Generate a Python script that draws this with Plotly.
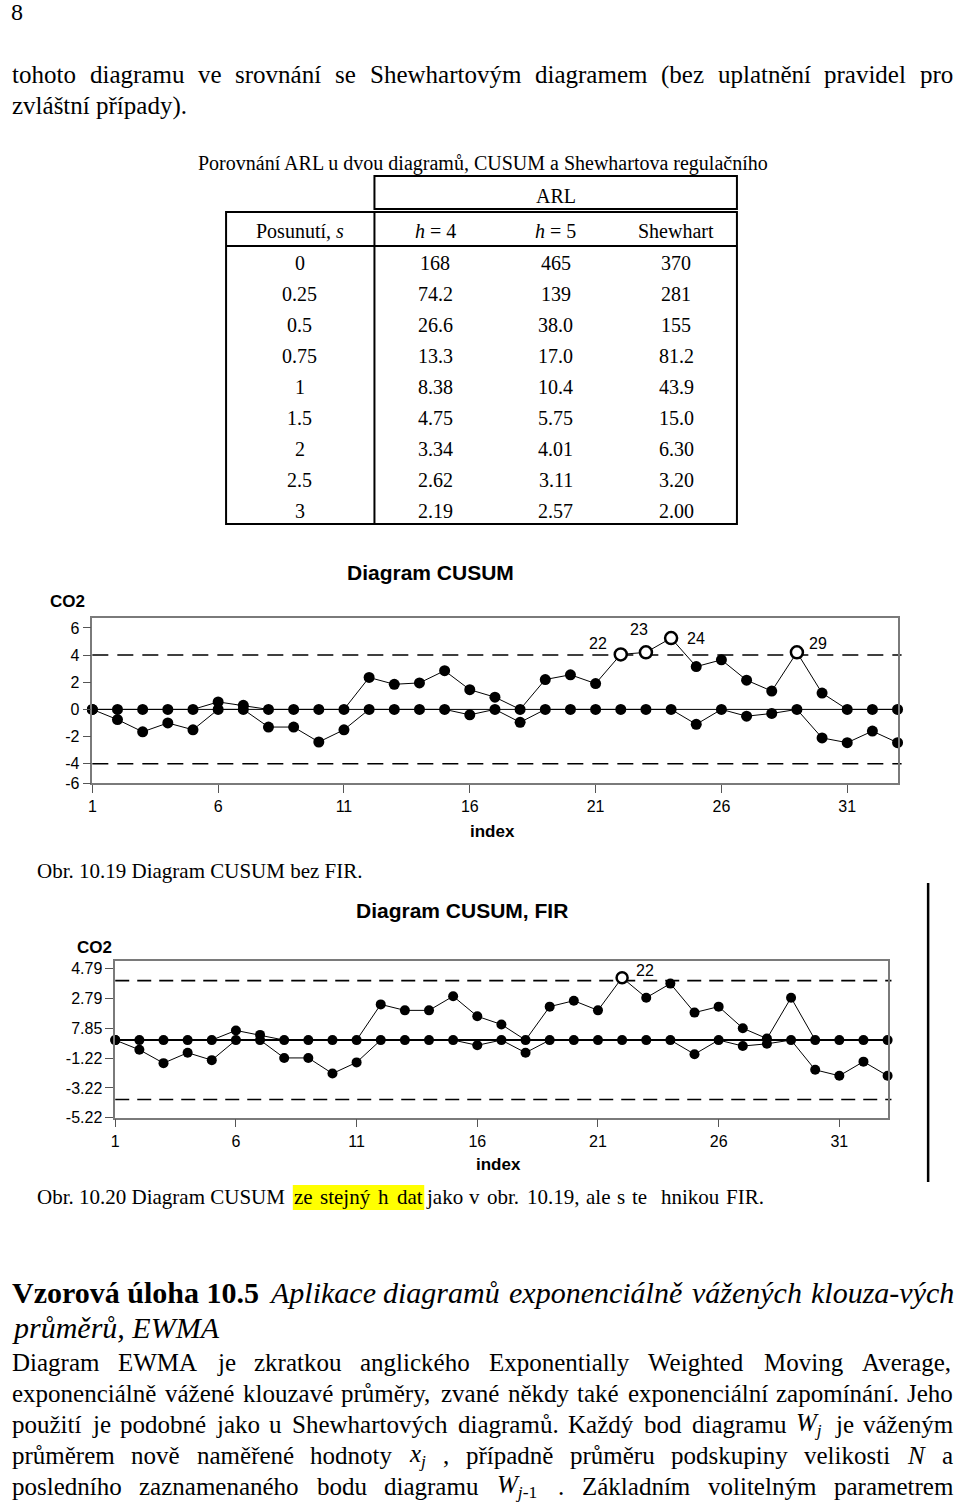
import re
import unicodedata
import plotly.graph_objects as go

# ---------------- data ----------------
index = list(range(1, 34))
x_ticks = [1, 6, 11, 16, 21, 26, 31]
h_limit = 4

# Diagram CUSUM (bez FIR)
cusum_upper = [0, 0, 0, 0, 0, 0.55, 0.3, 0, 0, 0, 0, 2.35, 1.85, 1.95, 2.85, 1.45, 0.9,
               0, 2.2, 2.55, 1.9, 4.05, 4.2, 5.25, 3.15, 3.65, 2.15, 1.35, 4.2, 1.2, 0, 0, 0]
cusum_lower = [0, -0.75, -1.65, -1.0, -1.5, 0, 0, -1.3, -1.3, -2.4, -1.5, 0, 0, 0, 0, -0.4, 0,
               -0.95, 0, 0, 0, 0, 0, 0, -1.1, 0, -0.5, -0.3, 0, -2.1, -2.45, -1.6, -2.45]
y1_tickvals = [6, 4, 2, 0, -2, -4, -5.42]
y1_ticktext = ["6", "4", "2", "0", "-2", "-4", "-6"]

# Diagram CUSUM, FIR
fir_upper = [0, 0, 0, 0, 0, 0.65, 0.35, 0, 0, 0, 0, 2.4, 2.0, 2.0, 2.95, 1.6, 1.05,
             0, 2.25, 2.65, 2.0, 4.2, 2.85, 3.8, 1.85, 2.25, 0.8, 0.1, 2.85, 0, 0, 0, 0]
fir_lower = [0, -0.65, -1.55, -0.85, -1.35, 0, 0, -1.2, -1.2, -2.25, -1.5, 0, 0, 0, 0, -0.35, 0,
             -0.85, 0, 0, 0, 0, 0, 0, -0.95, 0, -0.4, -0.25, 0, -2.0, -2.4, -1.45, -2.4]
y2_tickvals = [4.79, 2.79, 0.785, -1.22, -3.22, -5.22]
y2_ticktext = ["4.79", "2.79", "7.85", "-1.22", "-3.22", "-5.22"]

# ARL table
shift_labels = ["0", "0.25", "0.5", "0.75", "1", "1.5", "2", "2.5", "3"]
arl_h4 = ["168", "74.2", "26.6", "13.3", "8.38", "4.75", "3.34", "2.62", "2.19"]
arl_h5 = ["465", "139", "38.0", "17.0", "10.4", "5.75", "4.01", "3.11", "2.57"]
arl_shewhart = ["370", "281", "155", "81.2", "43.9", "15.0", "6.30", "3.20", "2.00"]
table_header = ["Posunutí, <i>s</i>", "<i>h</i> = 4", "<i>h</i> = 5", "Shewhart"]

# ---------------- helpers ----------------
W, H = 960, 1506
FIG_H = 1515          # compensates the slight vertical squeeze of the screenshot
SERIF = "Liberation Serif"
SANS = "Liberation Sans"


def X(px):
    return px / W


def Y(py):
    return 1 - py / H


TIMES = {' ': 250, '!': 333, '(': 333, ')': 333, ',': 250, '-': 333, '.': 250, ':': 278,
         ';': 278, '=': 564, 'A': 722, 'B': 667, 'C': 667, 'D': 722, 'E': 611, 'F': 556,
         'G': 722, 'H': 722, 'I': 333, 'J': 389, 'K': 722, 'L': 611, 'M': 889, 'N': 722,
         'O': 722, 'P': 556, 'Q': 722, 'R': 667, 'S': 556, 'T': 611, 'U': 722, 'V': 722,
         'W': 944, 'X': 722, 'Y': 722, 'Z': 611, 'a': 444, 'b': 500, 'c': 444, 'd': 500,
         'e': 444, 'f': 333, 'g': 500, 'h': 500, 'i': 278, 'j': 278, 'k': 500, 'l': 278,
         'm': 778, 'n': 500, 'o': 500, 'p': 500, 'q': 500, 'r': 333, 's': 389, 't': 278,
         'u': 500, 'v': 500, 'w': 722, 'x': 500, 'y': 500, 'z': 444}
for d in "0123456789":
    TIMES[d] = 500
TIMES_I = dict(TIMES)
TIMES_I.update({'a': 500, 'f': 278, 'k': 444, 'm': 722, 'r': 389, 'v': 444, 'w': 667,
                'x': 444, 'y': 444, 'z': 389, 'A': 611, 'E': 611, 'M': 833, 'N': 667,
                'W': 833, '-': 333})


def plain_width(s, table):
    tot = 0
    for ch in s:
        base = unicodedata.normalize("NFD", ch)[0]
        tot += table.get(base, 500)
    return tot


def measure(html, italic=False):
    table = TIMES_I if italic else TIMES
    tot = 0
    parts = re.split(r"(<sub>.*?</sub>)", html)
    for p in parts:
        if p.startswith("<sub>"):
            tot += 0.7 * plain_width(re.sub(r"<[^>]+>", "", p), table)
        else:
            tot += plain_width(re.sub(r"<[^>]+>", "", p), table)
    return tot / 1000.0


fig = go.Figure()


def txt(s, px, py, size, family=SERIF, xanchor="left", color="black"):
    fig.add_annotation(x=X(px), y=Y(py), xref="paper", yref="paper", text=s,
                       showarrow=False, xanchor=xanchor, yanchor="middle",
                       borderpad=0, borderwidth=0,
                       font=dict(family=family, size=size, color=color))


def justify(line, x0, x1, py, size, family=SERIF, wrap=""):
    tokens = line.split(" ")
    widths = [measure(t, italic=(wrap == "i")) * size for t in tokens]
    gap = (x1 - x0 - sum(widths)) / max(len(tokens) - 1, 1)
    x = x0
    for t, wd in zip(tokens, widths):
        if t:
            s = f"<{wrap}>{t}</{wrap}>" if wrap else t
            txt(s, x, py, size, family)
        x += wd + gap


def hline(x0, x1, py, width=2, color="black"):
    fig.add_shape(type="line", xref="paper", yref="paper", x0=X(x0), x1=X(x1),
                  y0=Y(py), y1=Y(py), line=dict(color=color, width=width))


def vline(px, y0, y1, width=2, color="black"):
    fig.add_shape(type="line", xref="paper", yref="paper", x0=X(px), x1=X(px),
                  y0=Y(y0), y1=Y(y1), line=dict(color=color, width=width))


BODY = 25

# ---------------- page text ----------------
txt("8", 7, 12, 24)
justify("tohoto diagramu ve srovnání se Shewhartovým diagramem (bez uplatnění pravidel pro",
        8, 953, 75, BODY)
txt("zvláštní případy).", 8, 106, BODY)
txt("Porovnání ARL u dvou diagramů, CUSUM a Shewhartova regulačního", 481, 163, 20,
    xanchor="center")

# ---------------- table ----------------
fig.add_shape(type="rect", xref="paper", yref="paper", x0=X(372), x1=X(736), y0=Y(209),
              y1=Y(176), line=dict(color="black", width=2))
fig.add_shape(type="rect", xref="paper", yref="paper", x0=X(223), x1=X(736), y0=Y(524),
              y1=Y(212), line=dict(color="black", width=2))
hline(223, 736, 246)
vline(372, 212, 524)
col_x = [297, 433, 554, 675]
txt("ARL", 554, 196, 20, xanchor="center")
for cx, head in zip(col_x, table_header):
    txt(head, cx, 231, 20, xanchor="center")
for r, row in enumerate(zip(shift_labels, arl_h4, arl_h5, arl_shewhart)):
    for cx, val in zip(col_x, row):
        txt(val, cx, 263 + 31 * r, 20, xanchor="center")

# ---------------- charts ----------------
axis_common = dict(showgrid=False, zeroline=False, showline=True, linecolor="#7a7a7a",
                   linewidth=1.5, mirror=True, ticks="outside", ticklen=8,
                   tickcolor="#555555", tickwidth=1.2,
                   tickfont=dict(family=SANS, size=16, color="black"))


def add_chart(xa, ya, upper, lower, msize, label_offsets):
    for series in (upper, lower):
        fig.add_trace(go.Scatter(x=index, y=series, mode="lines+markers", xaxis=xa, yaxis=ya,
                                 line=dict(color="black", width=1),
                                 marker=dict(color="black", size=msize, symbol="circle"),
                                 cliponaxis=False, hoverinfo="skip"))
    sig_x = [i for i, v in zip(index, upper) if v > h_limit]
    sig_y = [v for v in upper if v > h_limit]
    fig.add_trace(go.Scatter(x=sig_x, y=sig_y, mode="markers", xaxis=xa, yaxis=ya,
                             marker=dict(color="white", size=msize + 1, symbol="circle",
                                         line=dict(color="black", width=2.5)),
                             cliponaxis=False, hoverinfo="skip"))
    for sx, sy in zip(sig_x, sig_y):
        dx, dy = label_offsets.get(sx, (18, 8))
        fig.add_annotation(x=sx, y=sy, xref=xa, yref=ya, text=str(sx), showarrow=False,
                           xshift=dx, yshift=dy, font=dict(family=SANS, size=16, color="black"))


def limit_lines(xa, ya, dash, center_w):
    xd = xa + " domain"
    for yv in (h_limit, -h_limit):
        fig.add_shape(type="line", xref=xd, yref=ya, x0=0, x1=1.005, y0=yv, y1=yv,
                      line=dict(color="black", width=1.6, dash=dash), layer="below")
    fig.add_shape(type="line", xref=xd, yref=ya, x0=0, x1=1, y0=0, y1=0,
                  line=dict(color="black", width=center_w), layer="below")


add_chart("x", "y", cusum_upper, cusum_lower, 11,
          {22: (-23, 11), 23: (-7, 23), 24: (25, 0), 29: (21, 9)})
limit_lines("x", "y", "16px,9px", 1)
add_chart("x2", "y2", fir_upper, fir_lower, 10, {22: (23, 7)})
limit_lines("x2", "y2", "14px,8px", 2)

fig.update_layout(
    xaxis=dict(domain=[X(88.7), X(897.3)], range=[1, 33], tickvals=x_ticks, anchor="y",
               **axis_common),
    yaxis=dict(domain=[Y(783), Y(618)], range=[-5.42, 6.73], tickvals=y1_tickvals,
               ticktext=y1_ticktext, anchor="x", **axis_common),
    xaxis2=dict(domain=[X(111.7), X(887.3)], range=[1, 33], tickvals=x_ticks, anchor="y2",
                **axis_common),
    yaxis2=dict(domain=[Y(1117.7), Y(960.7)], range=[-5.22, 5.34], tickvals=y2_tickvals,
                ticktext=y2_ticktext, anchor="x2", **axis_common),
)

# chart titles and axis labels
txt("<b>Diagram CUSUM</b>", 428, 572, 21, family=SANS, xanchor="center")
txt("<b>CO2</b>", 64, 601, 17, family=SANS, xanchor="center")
txt("<b>index</b>", 491, 832, 17, family=SANS, xanchor="center")
txt("Obr. 10.19 Diagram CUSUM bez FIR.", 33, 871, 21)

txt("<b>Diagram CUSUM, FIR</b>", 460, 910, 21, family=SANS, xanchor="center")
txt("<b>CO2</b>", 91, 947, 17, family=SANS, xanchor="center")
txt("<b>index</b>", 497, 1164, 17, family=SANS, xanchor="center")
vline(928, 883, 1182, width=2.5)

# caption 2 with highlight
fig.add_shape(type="rect", xref="paper", yref="paper", x0=X(290), x1=X(422), y0=Y(1210),
              y1=Y(1185), fillcolor="#ffff00", line=dict(width=0), layer="below")
txt("Obr. 10.20 Diagram CUSUM", 33, 1197, 21)
justify("ze stejný h dat", 291, 420, 1197, 21)
justify("jako v obr. 10.19, ale s te  hnikou FIR.", 424, 763, 1197, 21)

# heading
txt("<b>Vzorová úloha 10.5</b>", 8, 1292, 30)
justify("Aplikace diagramů exponenciálně vážených klouza-vých", 266, 954, 1292, 30, wrap="i")
txt("<i>průměrů, EWMA</i>", 8, 1327, 30)

body = [
    "Diagram EWMA je zkratkou anglického Exponentially Weighted Moving Average,",
    "exponenciálně vážené klouzavé průměry, zvané někdy také exponenciální zapomínání. Jeho",
    "použití je podobné jako u Shewhartových diagramů. Každý bod diagramu "
    "<i>W</i><sub><i>j</i></sub> je váženým",
    "průměrem nově naměřené hodnoty <i>x</i><sub><i>j</i></sub> , případně průměru "
    "podskupiny velikosti <i>N</i> a",
    "posledního zaznamenaného bodu diagramu <i>W</i><sub><i>j</i>-1</sub> . Základním "
    "volitelným parametrem",
]
for k, line in enumerate(body):
    justify(line, 8, 953, 1362 + 31 * k, BODY)

fig.update_layout(width=W, height=FIG_H, margin=dict(l=0, r=0, t=0, b=0),
                  paper_bgcolor="white", plot_bgcolor="white", showlegend=False)

fig.write_html("out.html",
               config={"displayModeBar": False},
               post_script="document.body.style.margin='0px';"
                           "document.body.style.overflow='hidden';"
                           "var d=document.getElementById('{plot_id}');"
                           "d.style.position='fixed';d.style.top='0px';d.style.left='0px';")
